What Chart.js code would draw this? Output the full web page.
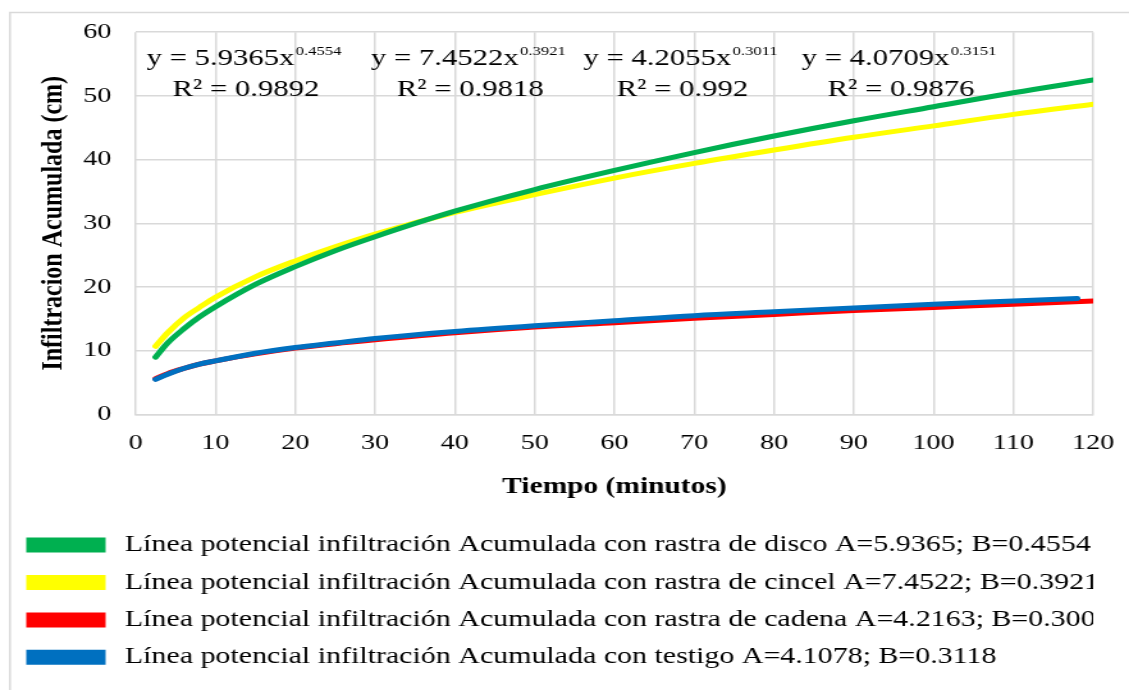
<!DOCTYPE html>
<html lang="es">
<head>
    <meta charset="UTF-8">
    <title>Infiltración acumulada</title>
    <script src="https://cdn.jsdelivr.net/npm/chart.js"></script>
    <style>
        html, body { margin: 0; padding: 0; background: #fff; overflow: hidden; }
        /* el gráfico original está estirado a lo ancho: se dibuja a 882px y se escala a 1129px */
        #wrap { width: 882px; height: 690px; transform: scaleX(1.28005); transform-origin: 0 0; }
    </style>
</head>
<body>
    <div id="wrap"><canvas id="infiltracionChart" width="882" height="690"></canvas></div>
    <script>
        // valores (tiempo en minutos, infiltración en cm)
        const tiempo = [2.5, 4, 6, 8, 10, 15, 20, 25, 30, 40, 50, 60, 70, 80, 90, 100, 110, 120];
        const tiempoTestigo = [2.5, 4, 6, 8, 10, 15, 20, 25, 30, 40, 50, 60, 70, 80, 90, 100, 110, 118];
        const disco = [9.0, 11.2, 13.4, 15.3, 16.9, 20.4, 23.2, 25.7, 27.9, 31.9, 35.3, 38.3, 41.1, 43.7, 46.1, 48.3, 50.5, 52.5];
        const cincel = [10.7, 12.8, 15.1, 16.8, 18.4, 21.6, 24.1, 26.3, 28.3, 31.7, 34.5, 37.1, 39.4, 41.5, 43.5, 45.3, 47.1, 48.7];
        const cadena = [5.6, 6.4, 7.2, 7.9, 8.4, 9.5, 10.4, 11.1, 11.7, 12.8, 13.7, 14.4, 15.1, 15.7, 16.3, 16.8, 17.3, 17.8];
        const testigo = [5.5, 6.3, 7.2, 7.9, 8.4, 9.6, 10.5, 11.2, 11.9, 13.0, 13.9, 14.7, 15.5, 16.1, 16.7, 17.3, 17.8, 18.2];

        const leyendas = [
            'Línea potencial infiltración Acumulada con rastra de disco A=5.9365; B=0.4554',
            'Línea potencial infiltración Acumulada con rastra de cincel A=7.4522; B=0.3921',
            'Línea potencial infiltración Acumulada con rastra de cadena A=4.2163; B=0.3003',
            'Línea potencial infiltración Acumulada con testigo A=4.1078; B=0.3118'
        ];

        // ecuaciones de las líneas de tendencia
        const eqBase = ['y = 5.9365x', 'y = 7.4522x', 'y = 4.2055x', 'y = 4.0709x'];
        const eqExp = ['0.4554', '0.3921', '0.3011', '0.3151'];
        const eqR2 = ['R² = 0.9892', 'R² = 0.9818', 'R² = 0.992', 'R² = 0.9876'];

        const xTicks = [0, 10, 20, 30, 40, 50, 60, 70, 80, 90, 100, 110, 120];
        const yTicks = [0, 10, 20, 30, 40, 50, 60];

        const serif = "'Liberation Serif', 'Times New Roman', serif";

        function pares(xs, ys) {
            return xs.map((x, i) => ({ x: x, y: ys[i] }));
        }

        // fondo y borde exterior del gráfico
        const bordePlugin = {
            id: 'borde',
            beforeDraw(chart) {
                const ctx = chart.ctx;
                ctx.save();
                ctx.fillStyle = '#fff';
                ctx.fillRect(0, 0, chart.width, chart.height);
                ctx.strokeStyle = '#d9d9d9';
                ctx.lineWidth = 1.5;
                ctx.strokeRect(7.8, 12.5, 1000, 800);
                ctx.restore();
            }
        };

        // ecuaciones arriba de las curvas
        const ecuacionesPlugin = {
            id: 'ecuaciones',
            afterDatasetsDraw(chart) {
                const ctx = chart.ctx;
                const xs = chart.scales.x, ys = chart.scales.y;
                const centros = [13.5, 41.6, 68.2, 95.6];
                ctx.save();
                ctx.fillStyle = '#000';
                ctx.textBaseline = 'alphabetic';
                centros.forEach((c, i) => {
                    const cx = xs.getPixelForValue(c);
                    ctx.font = '24px ' + serif;
                    const w1 = ctx.measureText(eqBase[i]).width;
                    ctx.font = '13px ' + serif;
                    const w2 = ctx.measureText(eqExp[i]).width;
                    const x0 = cx - (w1 + w2) / 2;
                    const y1 = ys.getPixelForValue(54.9);
                    ctx.font = '24px ' + serif;
                    ctx.textAlign = 'left';
                    ctx.fillText(eqBase[i], x0, y1);
                    ctx.font = '13px ' + serif;
                    ctx.fillText(eqExp[i], x0 + w1 + 1, y1 - 10);
                    ctx.font = '24px ' + serif;
                    ctx.textAlign = 'center';
                    ctx.fillText(eqR2[i], cx + 2, ys.getPixelForValue(50.0));
                });
                ctx.restore();
            }
        };

        const chart = new Chart(document.getElementById('infiltracionChart'), {
            type: 'line',
            data: {
                datasets: [
                    { label: ' ' + leyendas[0], data: pares(tiempo, disco), borderColor: '#00b050', backgroundColor: '#00b050', order: 0 },
                    { label: ' ' + leyendas[1], data: pares(tiempo, cincel), borderColor: '#ffff00', backgroundColor: '#ffff00', order: 1 },
                    { label: ' ' + leyendas[2], data: pares(tiempo, cadena), borderColor: '#ff0000', backgroundColor: '#ff0000', order: 3 },
                    { label: ' ' + leyendas[3], data: pares(tiempoTestigo, testigo), borderColor: '#0070c0', backgroundColor: '#0070c0', order: 2 }
                ]
            },
            options: {
                responsive: false,
                animation: false,
                layout: { padding: { left: 9, right: 28, top: 24, bottom: 11 } },
                elements: {
                    line: { borderWidth: 5, cubicInterpolationMode: 'monotone', borderCapStyle: 'round' },
                    point: { radius: 0 }
                },
                plugins: {
                    tooltip: { enabled: false },
                    legend: {
                        position: 'bottom',
                        align: 'start',
                        labels: {
                            color: '#000',
                            font: { family: serif, size: 23.4 },
                            boxWidth: 57,
                            boxHeight: 10,
                            padding: 14,
                            sort: (a, b) => a.datasetIndex - b.datasetIndex
                        }
                    }
                },
                scales: {
                    x: {
                        type: 'linear',
                        min: 0,
                        max: 120,
                        afterBuildTicks: (s) => { s.ticks = xTicks.map(v => ({ value: v })); },
                        grid: { color: '#d9d9d9', lineWidth: 1.5, drawTicks: false },
                        border: { color: '#d9d9d9', width: 1.5 },
                        ticks: { color: '#000', font: { family: serif, size: 22 }, padding: 16, maxRotation: 0 },
                        title: { display: true, text: 'Tiempo (minutos)', color: '#000', font: { family: serif, size: 23, weight: 'bold' }, padding: { top: 6, bottom: 19 } },
                        afterFit: (s) => { s.height = 105; s.paddingRight = 0; }
                    },
                    y: {
                        min: 0,
                        max: 60,
                        afterBuildTicks: (s) => { s.ticks = yTicks.map(v => ({ value: v })); },
                        grid: { color: '#d9d9d9', lineWidth: 1.5, drawTicks: false },
                        border: { display: false },
                        ticks: { color: '#000', font: { family: serif, size: 22 }, padding: 19 },
                        title: { display: true, text: 'Infiltracion Acumulada (cm)', color: '#000', font: { family: serif, size: 24, weight: 'bold' }, padding: { top: 18, bottom: 0 } },
                        afterFit: (s) => { s.width = 97; }
                    }
                }
            },
            plugins: [bordePlugin, ecuacionesPlugin]
        });
    </script>
</body>
</html>
